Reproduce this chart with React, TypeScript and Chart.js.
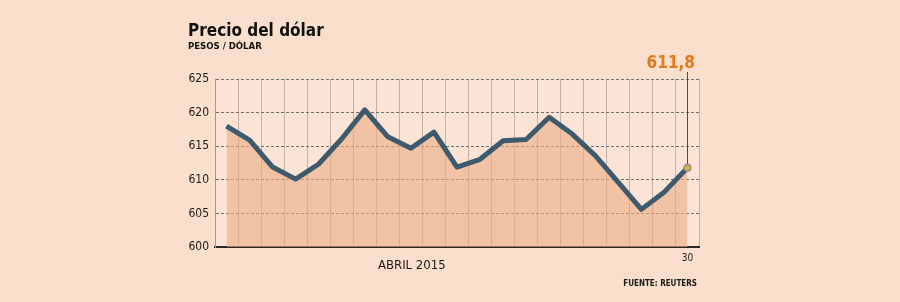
import React, { useEffect, useRef } from "react";
import { Chart, registerables } from "chart.js";

Chart.register(...registerables);

const days = ["1", "2", "6", "7", "8", "9", "10", "13", "14", "15", "16", "17", "20", "21", "22", "23", "24", "27", "28", "29", "30"];
const dollarValues = [618.0, 615.9, 611.9, 610.1, 612.35, 616.1, 620.4, 616.4, 614.7, 617.1, 611.9, 613.05, 615.8, 616.0, 619.3, 616.8, 613.6, 609.6, 605.6, 608.2, 611.8];
const yTicks = [600, 605, 610, 615, 620, 625];
const shownXLabels = ["30"];
const titleText = "Precio del dólar";
const subtitleText = "PESOS / DÓLAR";
const monthText = "ABRIL 2015";
const sourceText = "FUENTE: REUTERS";
const lastLabel = "611,8";

const BG = "#f9dfcc";
const FONT = "'DejaVu Sans Condensed', 'DejaVu Sans', sans-serif";

const decorPlugin = {
  id: "decor",
  beforeDraw(chart: any) {
    const { ctx, chartArea } = chart;
    ctx.save();
    ctx.fillStyle = BG;
    ctx.fillRect(0, 0, chart.width, chart.height);
    ctx.fillStyle = "#fbe4d5";
    ctx.fillRect(chartArea.left, chartArea.top, chartArea.right - chartArea.left, chartArea.bottom - chartArea.top);
    ctx.restore();
  },
  afterDatasetsDraw(chart: any) {
    const { ctx } = chart;
    const meta = chart.getDatasetMeta(0);
    const pt = meta.data[meta.data.length - 1];
    ctx.save();
    ctx.strokeStyle = "#4a4a4a";
    ctx.lineWidth = 1;
    ctx.beginPath();
    ctx.moveTo(Math.round(pt.x) + 0.5, 72);
    ctx.lineTo(Math.round(pt.x) + 0.5, pt.y - 4);
    ctx.stroke();
    ctx.fillStyle = "#e07a20";
    ctx.font = `bold 17px ${FONT}`;
    ctx.textAlign = "right";
    ctx.textBaseline = "alphabetic";
    ctx.fillText(lastLabel, 695, 68);
    ctx.restore();
  },
  afterDraw(chart: any) {
    const { ctx } = chart;
    ctx.save();
    ctx.fillStyle = "#111";
    ctx.textBaseline = "alphabetic";
    ctx.textAlign = "left";
    ctx.font = `bold 17px ${FONT}`;
    ctx.fillText(titleText, 188, 36);
    ctx.font = `bold 9.5px ${FONT}`;
    ctx.fillText(subtitleText, 188, 49);
    ctx.font = `13px ${FONT}`;
    ctx.fillStyle = "#1a1a1a";
    ctx.fillText(monthText, 378, 269);
    ctx.font = `bold 8px ${FONT}`;
    ctx.textAlign = "right";
    ctx.fillText(sourceText, 697, 286);
    ctx.restore();
  },
};

export default function App() {
  const ref = useRef<HTMLCanvasElement>(null);
  useEffect(() => {
    document.body.style.margin = "0";
    document.body.style.background = BG;
    const last = dollarValues.length - 1;
    const chart = new Chart(ref.current as HTMLCanvasElement, {
      type: "line",
      data: {
        labels: days,
        datasets: [
          {
            data: dollarValues,
            borderColor: "#3e5a6d",
            borderWidth: 5,
            backgroundColor: "rgba(236,171,132,0.6)",
            fill: "start",
            tension: 0,
            borderJoinStyle: "round",
            pointRadius: (c: any) => (c.dataIndex === last ? 3.5 : 0),
            pointBackgroundColor: "#f0a732",
            pointBorderColor: "#8a929a",
            pointBorderWidth: 1.5,
          },
        ],
      },
      options: {
        responsive: false,
        animation: false,
        events: [],
        layout: { padding: { left: 0, right: 201, top: 79, bottom: 35 } },
        plugins: { legend: { display: false }, tooltip: { enabled: false } },
        scales: {
          x: {
            type: "category",
            offset: true,
            afterFit(scale: any) {
              scale.height = 20;
            },
            grid: {
              offset: true,
              color: "#bfb2a8",
              lineWidth: 1,
              drawTicks: false,
            },
            border: { display: true, color: "#2a2a2a", width: 2 },
            ticks: {
              autoSkip: false,
              maxRotation: 0,
              padding: 5,
              color: "#1a1a1a",
              font: { family: FONT, size: 10 },
              callback: function (this: any, v: any, i: number) {
                const lab = days[i];
                return shownXLabels.includes(lab) ? lab : "";
              },
            },
          },
          y: {
            min: 600,
            max: 625,
            afterFit(scale: any) {
              scale.width = 215;
            },
            afterBuildTicks(scale: any) {
              scale.ticks = yTicks.map((v) => ({ value: v }));
            },
            grid: {
              color: (c: any) => (c.tick && c.tick.value === 600 ? "rgba(0,0,0,0)" : "#6e6e6e"),
              lineWidth: 1,
              drawTicks: false,
            },
            border: { display: true, color: "#a09890", width: 1, dash: [3, 2] },
            ticks: {
              padding: 6,
              color: "#1a1a1a",
              font: { family: FONT, size: 12 },
            },
          },
        },
      },
      plugins: [decorPlugin],
    } as any);
    return () => chart.destroy();
  }, []);
  return (
    <div style={{ position: "absolute", left: 0, top: 0, width: 900, height: 302, background: BG }}>
      <canvas ref={ref} width={900} height={302} style={{ display: "block", width: 900, height: 302 }} />
    </div>
  );
}
